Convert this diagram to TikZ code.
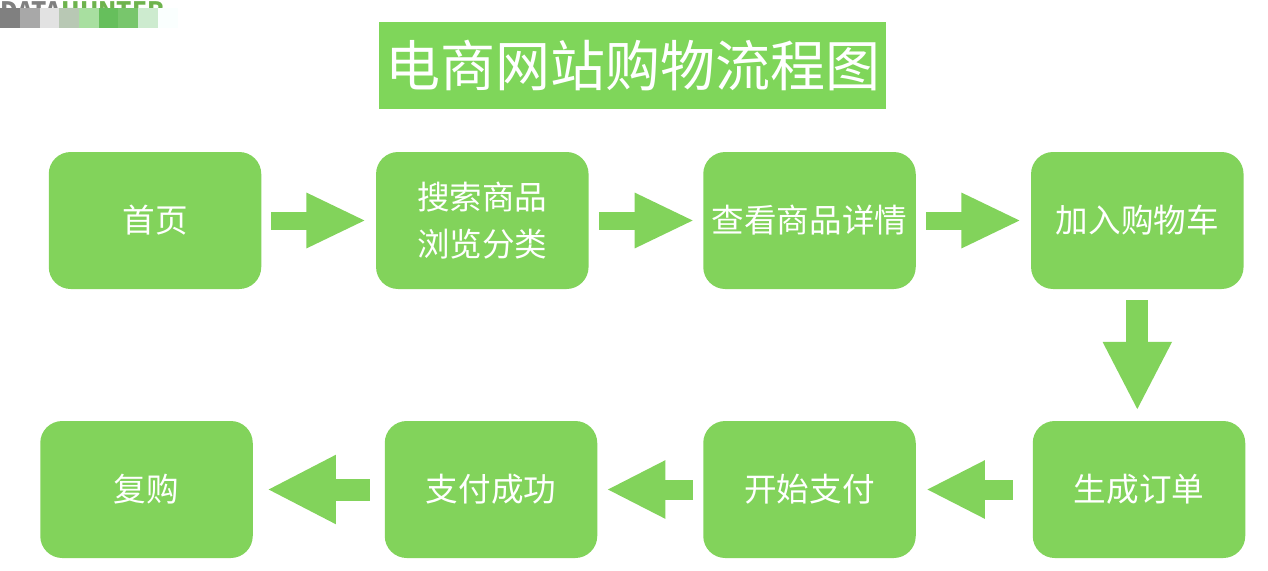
\documentclass[tikz,border=0pt]{standalone}
\usepackage{fontspec}
\setmainfont{Noto Sans CJK SC}
\usetikzlibrary{arrows.meta,positioning}
\definecolor{boxgreen}{HTML}{82D35B}
\definecolor{titlegreen}{HTML}{7FD65A}
\tikzset{
  x=1pt,y=-1pt,
  stepbox/.style={fill=boxgreen,rounded corners=22pt,minimum width=212.5pt,minimum height=137pt,inner sep=0pt,text=white,font=\fontsize{32.6}{47}\selectfont,align=center},
  blockarrow/.style={draw=boxgreen,line width=18pt,-{Triangle[length=60pt,width=51pt,color=boxgreen]}},
  bigleft/.style={draw=boxgreen,line width=22pt,-{Triangle[length=69pt,width=64pt,color=boxgreen]}},
  midleft/.style={draw=boxgreen,line width=20pt,-{Triangle[length=59pt,width=54pt,color=boxgreen]}},
  mosaic/.style={minimum width=20.3pt,minimum height=20pt,inner sep=0pt,anchor=north west},
}
\begin{document}
\begin{tikzpicture}
\useasboundingbox (0,0) rectangle (1268,570);
% watermark, mostly hidden by the mosaic
\begin{scope}
\clip (0,0) rectangle (175,9);
\node[anchor=west,inner sep=0pt,font=\bfseries\fontsize{24}{24}\selectfont,text=gray] (wmA) at (0,11) {DATA};
\node[anchor=west,inner sep=0pt,font=\bfseries\fontsize{24}{24}\selectfont,text=boxgreen!85!black] (wmB) at (wmA.east) {HUNTER};
\end{scope}
\foreach \i/\c in {0/808080,1/A8A8A8,2/E2E2E2,3/B8C8B4,4/A8DFA0,5/66BF5C,6/78C66C,7/CDEBCF,8/FAFFFE}{
  \definecolor{mc}{HTML}{\c}
  \node[mosaic,fill=mc] (m\i) at ({\i*19.7},8) {};
}
% title
\node[fill=titlegreen,minimum width=507pt,minimum height=87pt,inner sep=0pt,text=white,font=\fontsize{55}{60}\selectfont] (title) at (632.5,65.5) {电商网站购物流程图};
% boxes
\node[stepbox] (a) at (155,220.5) {首页};
\node[stepbox] (b) at (482.3,220.5) {搜索商品\\浏览分类};
\node[stepbox] (c) at (809.5,220.5) {查看商品详情};
\node[stepbox] (d) at (1137.3,220.5) {加入购物车};
\node[stepbox] (e) at (1139,489.5) {生成订单};
\node[stepbox] (f) at (809.5,489.5) {开始支付};
\node[stepbox] (g) at (491,489.5) {支付成功};
\node[stepbox] (h) at (146.5,489.5) {复购};
% connectors
\draw[blockarrow,shorten <=10pt,shorten >=9.5pt] (a) -- (b);
\draw[blockarrow,shorten <=10pt,shorten >=8.5pt] (b) -- (c);
\draw[blockarrow,shorten <=10pt,shorten >=9.5pt] (c) -- (d);
\draw[bigleft,shorten <=11pt,shorten >=10pt] (d.south) -- (d.south |- e.north);
\draw[midleft,shorten <=20pt,shorten >=10pt] (e) -- (f);
\draw[midleft,shorten <=10pt,shorten >=9pt] (f) -- (g);
\draw[bigleft,shorten <=15pt,shorten >=14pt] (g) -- (h);
\end{tikzpicture}
\end{document}
